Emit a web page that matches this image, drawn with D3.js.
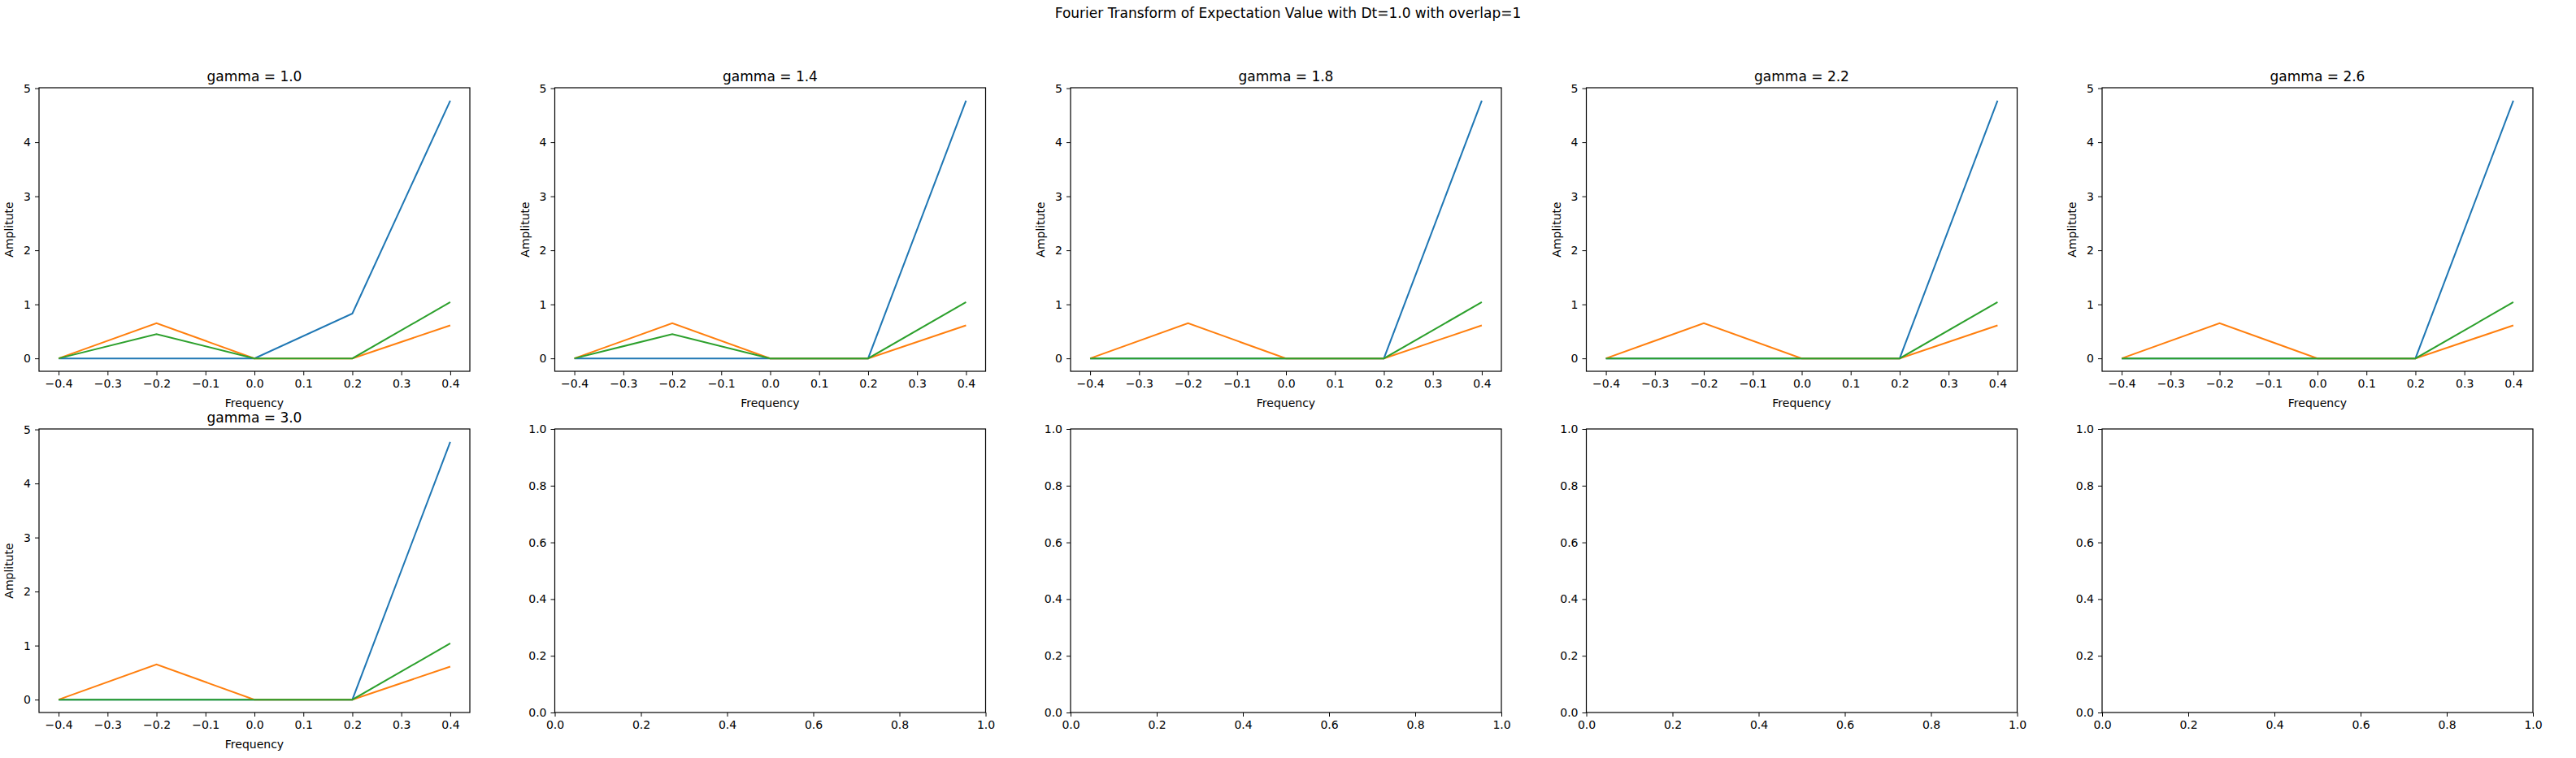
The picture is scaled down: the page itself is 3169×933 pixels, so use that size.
<!DOCTYPE html>
<html><head><meta charset="utf-8">
<script src="https://cdn.jsdelivr.net/npm/d3@7"></script>
<style>body{margin:0;background:#fff}text{font-family:"DejaVu Sans",sans-serif}</style>
</head><body><div id="chart"></div>
<script>
// Chart data
const freqs = [-0.4, -0.2, 0.0, 0.2, 0.4]
const gammas = ['1.0', '1.4', '1.8', '2.2', '2.6', '3.0']
const blue = [
  [0, 0, 0, 0.83, 4.77], [0, 0, 0, 0, 4.77], [0, 0, 0, 0, 4.77],
  [0, 0, 0, 0, 4.77], [0, 0, 0, 0, 4.77], [0, 0, 0, 0, 4.77]
]
const orange = [
  [0, 0.65, 0, 0, 0.61], [0, 0.65, 0, 0, 0.61], [0, 0.65, 0, 0, 0.61],
  [0, 0.65, 0, 0, 0.61], [0, 0.65, 0, 0, 0.61], [0, 0.65, 0, 0, 0.61]
]
const green = [
  [0, 0.45, 0, 0, 1.04], [0, 0.45, 0, 0, 1.04], [0, 0, 0, 0, 1.04],
  [0, 0, 0, 0, 1.04], [0, 0, 0, 0, 1.04], [0, 0, 0, 0, 1.04]
]
const xTicks = [-0.4, -0.3, -0.2, -0.1, 0.0, 0.1, 0.2, 0.3, 0.4]
const yTicks = [0, 1, 2, 3, 4, 5]
const emptyTicks = [0, 0.2, 0.4, 0.6, 0.8, 1.0]
const colors = ['#1f77b4', '#ff7f0e', '#2ca02c']

const W = 3169, H = 933
const left0 = 48, step = 634.5, axW = 530
const rowTop = [108, 528], axH = 349

const svg = d3.select('#chart').append('svg').attr('width', W).attr('height', H)

svg.append('text').text('Fourier Transform of Expectation Value with Dt=1.0 with overlap=1')
  .attr('x', W / 2).attr('y', 22).attr('text-anchor', 'middle').style('font-size', '17px')

const fmt = d => (d < 0 ? '\u2212' : '') + Math.abs(d).toFixed(1)

for (let i = 0; i < 10; i++) {
  const row = Math.floor(i / 5), col = i % 5
  const g = svg.append('g').attr('transform', `translate(${left0 + col * step},${rowTop[row]})`)
  let x, y
  const has = i < gammas.length
  if (has) {
    x = d3.scaleLinear().domain([-0.44, 0.44]).range([0, axW])
    y = d3.scaleLinear().domain([-0.2385, 5.0085]).range([axH, 0])
  } else {
    x = d3.scaleLinear().domain([0, 1]).range([0, axW])
    y = d3.scaleLinear().domain([0, 1]).range([axH, 0])
  }
  const xa = g.append('g').attr('transform', `translate(0,${axH})`)
    .call(d3.axisBottom(x).tickValues(has ? xTicks : emptyTicks).tickFormat(fmt).tickSize(5).tickPadding(5))
  const ya = g.append('g')
    .call(d3.axisLeft(y).tickValues(has ? yTicks : emptyTicks).tickFormat(has ? d3.format('d') : d3.format('.1f')).tickSize(5).tickPadding(5))
  ;[xa, ya].forEach(a => {
    a.select('.domain').remove()
    a.selectAll('text').style('font-size', '14px').attr('fill', '#000').style('font-family', '"DejaVu Sans",sans-serif')
    a.selectAll('line').attr('stroke', '#000')
  })
  if (has) {
    const line = d3.line().x((d, k) => x(freqs[k])).y(d => y(d))
    ;[blue, orange, green].forEach((s, k) => {
      g.append('path').datum(s[i]).attr('d', line).attr('fill', 'none')
        .attr('stroke', colors[k]).attr('stroke-width', 2)
    })
    g.append('text').text('gamma = ' + gammas[i]).attr('x', axW / 2).attr('y', -8)
      .attr('text-anchor', 'middle').style('font-size', '17px')
    g.append('text').text('Frequency').attr('x', axW / 2).attr('y', axH + 44)
      .attr('text-anchor', 'middle').style('font-size', '14px')
    g.append('text').text('Amplitute').attr('transform', `translate(-32,${axH / 2}) rotate(-90)`)
      .attr('text-anchor', 'middle').style('font-size', '14px')
  }
  g.append('rect').attr('width', axW).attr('height', axH).attr('fill', 'none')
    .attr('stroke', '#000').attr('stroke-width', 1.2)
}
</script></body></html>
